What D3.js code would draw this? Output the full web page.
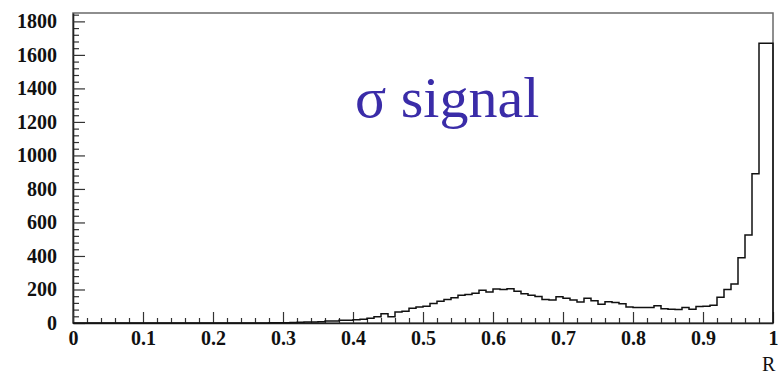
<!DOCTYPE html>
<html>
<head>
<meta charset="utf-8">
<script src="https://cdn.jsdelivr.net/npm/d3@7.9.0/dist/d3.min.js"></script>
<style>
  body { margin: 0; background: #fff; }
  svg { display: block; }
</style>
</head>
<body>
<svg id="viz" width="778" height="374"></svg>
<script>
// histogram: 100 bins of width 0.01 on [0, 1]
const binWidth = 0.01;
const counts = [
  0, 0, 0, 0, 0, 0, 0, 0, 0, 0,
  0, 0, 0, 0, 0, 0, 0, 0, 0, 0,
  0, 0, 0, 0, 0, 0, 0, 0, 1, 2,
  2, 3, 5, 6, 6, 8, 12, 12, 16, 17,
  20, 22, 28, 38, 55, 38, 66, 70, 88, 95,
  100, 117, 130, 140, 150, 165, 170, 178, 195, 185,
  203, 200, 205, 190, 175, 165, 158, 140, 138, 157,
  148, 138, 125, 147, 133, 112, 127, 122, 115, 95,
  92, 92, 92, 103, 85, 82, 80, 92, 82, 98,
  100, 106, 153, 200, 233, 390, 525, 890, 1670, 1670
];
const yMajor = [0, 200, 400, 600, 800, 1000, 1200, 1400, 1600, 1800];
const xMajor = [0, 0.1, 0.2, 0.3, 0.4, 0.5, 0.6, 0.7, 0.8, 0.9, 1];
const title = "σ signal";
const xTitle = "R";

const serif = "Liberation Serif, DejaVu Serif, serif";
const svg = d3.select("#viz");
const x = d3.scaleLinear().domain([0, 1]).range([73, 773]);
const y = d3.scaleLinear().domain([0, 1850]).range([323, 13]);

// frame
svg.append("rect")
  .attr("x", x(0)).attr("y", y(1850))
  .attr("width", x(1) - x(0)).attr("height", y(0) - y(1850))
  .attr("fill", "none").attr("stroke", "#6a6a6a").attr("stroke-width", 1.5);

// minor ticks
const yMinor = d3.range(0, 1850, 40).filter((v) => v % 200 !== 0);
const xMinor = d3.range(0, 51).map((i) => i / 50).filter((v, i) => i % 5 !== 0);

svg.append("g")
  .attr("transform", `translate(${x(0)},0)`)
  .call(d3.axisLeft(y).tickValues(yMinor).tickSize(-6).tickFormat("").tickSizeOuter(0))
  .call((g) => g.select(".domain").remove());

svg.append("g")
  .attr("transform", `translate(0,${y(0)})`)
  .call(d3.axisBottom(x).tickValues(xMinor).tickSize(-5).tickFormat("").tickSizeOuter(0))
  .call((g) => g.select(".domain").remove());

// major axes
svg.append("g")
  .attr("transform", `translate(${x(0)},0)`)
  .call(d3.axisLeft(y).tickValues(yMajor).tickSize(-12).tickPadding(16)
    .tickFormat(d3.format("d")).tickSizeOuter(0));

svg.append("g")
  .attr("transform", `translate(0,${y(0)})`)
  .call(d3.axisBottom(x).tickValues(xMajor).tickSize(-11).tickPadding(8)
    .tickFormat(d3.format("~g")).tickSizeOuter(0));

svg.selectAll(".domain").attr("stroke", "#222").attr("stroke-width", 1.6);
svg.selectAll(".tick line").attr("stroke", "#333").attr("stroke-width", 1.2);
svg.selectAll(".tick text")
  .attr("font-family", serif)
  .attr("font-weight", "bold")
  .attr("font-size", 20)
  .attr("fill", "#111");

// histogram outline
const pts = counts.map((c, i) => [i * binWidth, c]);
pts.push([1, counts[counts.length - 1]]);
const line = d3.line()
  .x((d) => x(d[0]))
  .y((d) => y(d[1]))
  .curve(d3.curveStepAfter);

svg.append("path")
  .attr("d", line([[0, 0], ...pts, [1, 0]]))
  .attr("fill", "none")
  .attr("stroke", "#111")
  .attr("stroke-width", 1.5);

// labels
svg.append("text")
  .attr("x", 355).attr("y", 117)
  .attr("font-family", serif)
  .attr("font-size", 58)
  .attr("fill", "#3a2ca8")
  .text(title);

svg.append("text")
  .attr("x", 762).attr("y", 371)
  .attr("font-family", serif)
  .attr("font-size", 20)
  .attr("fill", "#111")
  .text(xTitle);
</script>
</body>
</html>
